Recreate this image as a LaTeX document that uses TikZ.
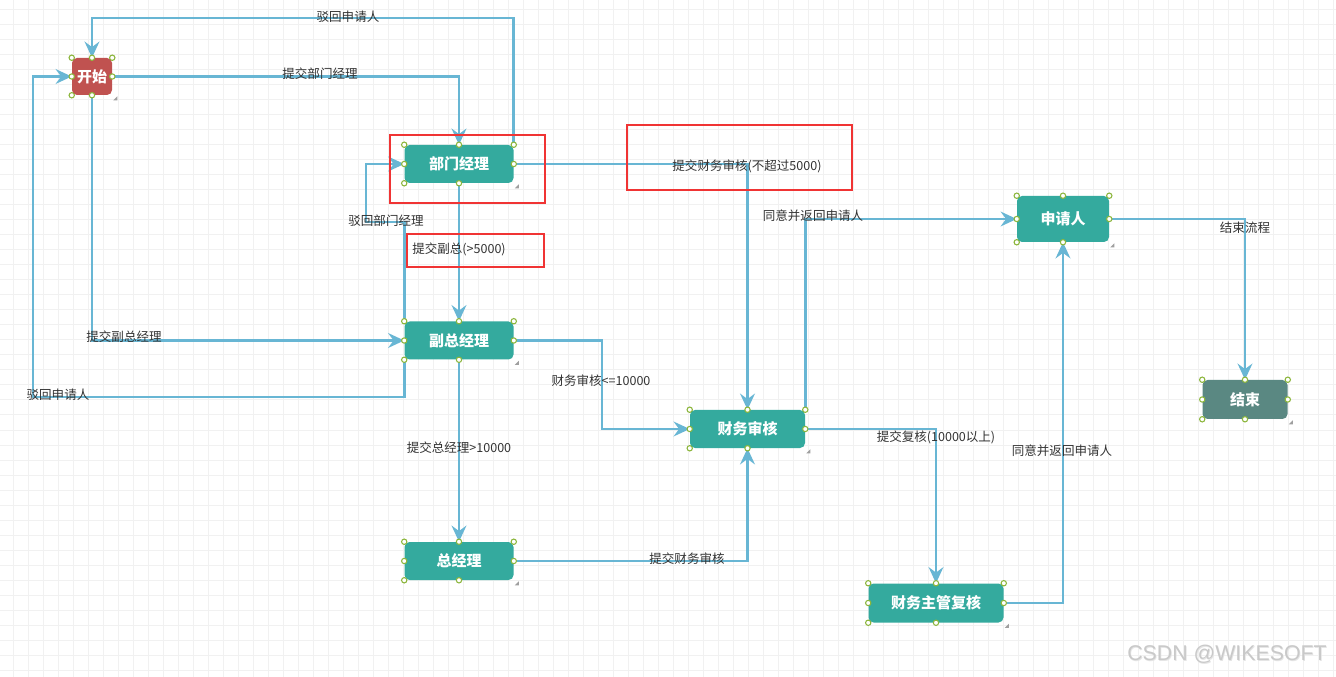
\documentclass[tikz,border=0pt]{standalone}
\usepackage{fontspec}
\setmainfont{Noto Sans CJK SC}
\newfontfamily\wmfont{Liberation Sans}
\usetikzlibrary{arrows.meta}
\definecolor{teal1}{RGB}{52,170,158}
\definecolor{startred}{RGB}{192,82,80}
\definecolor{endgray}{RGB}{90,136,130}
\definecolor{edgeblue}{RGB}{104,182,212}
\definecolor{handlegreen}{RGB}{140,182,60}
\definecolor{gridc}{RGB}{241,241,241}
\definecolor{redbox}{RGB}{240,52,52}
\definecolor{labeltext}{RGB}{51,51,51}
\begin{document}
\begin{tikzpicture}[x=0.75pt,y=-0.75pt,
  box/.style={rounded corners=3.75pt, fill=teal1, text=white,
    font=\bfseries\fontsize{11.25pt}{12pt}\selectfont, inner sep=0pt,
    minimum height=28.5pt},
  flow/.style={draw=edgeblue, line width=2.1pt,
    -{Stealth[length=12pt,width=11pt,inset=4pt]}},
  lbl/.style={text=labeltext, font=\fontsize{9.4pt}{10pt}\selectfont, inner sep=0pt},
  handle/.style={draw=handlegreen, fill=white, line width=0.8pt},
  hl/.style={draw=redbox, line width=1.6pt}
]
\useasboundingbox[fill=white] (0,0) rectangle (1336,677);
% grid
\foreach \i in {0,...,88} \draw[gridc, line width=0.75pt] (13+15*\i,0) -- (13+15*\i,677);
\foreach \j in {0,...,44} \draw[gridc, line width=0.75pt] (0,10+15*\j) -- (1336,10+15*\j);

% nodes
\node[box, fill=startred, minimum width=30pt, minimum height=27.75pt] (start) at (92,76.5) {开始};
\node[box, minimum width=81.75pt] (dept) at (459,164) {部门经理};
\node[box, minimum width=81.75pt] (vp) at (459,340.5) {副总经理};
\node[box, minimum width=81.75pt] (gm) at (459,561) {总经理};
\node[box, minimum width=86.25pt] (fin) at (747.5,429) {财务审核};
\node[box, minimum width=69pt, minimum height=34.5pt] (app) at (1063,219) {申请人};
\node[box, fill=endgray, minimum width=63.75pt, minimum height=29.25pt] (endn) at (1245,399.5) {结束};
\node[box, minimum width=101.25pt, minimum height=29.25pt] (rev) at (936,603) {财务主管复核};

% route coordinates
\coordinate (c2) at (300,18);
\coordinate (r1) at (33,397);
\coordinate (r2) at (366,222);
\coordinate (r3) at (602,380);

% connectors
\draw[flow] (start.east) -| (dept.north);
\draw[flow] (dept.north east) |- (c2) -| (start.north);
\draw[flow] (start.south) |- (vp.west);
\draw[flow] (vp.south west) |- (r1) |- (start.west);
\draw[flow] (vp.north west) |- (r2) |- (dept.west);
\draw[flow] (dept.south) -- (vp.north);
\draw[flow] (dept.east) -| (fin.north);
\draw[flow] (fin.north east) |- (app.west);
\draw[flow] (vp.east) -| (r3) |- (fin.west);
\draw[flow] (vp.south) -- (gm.north);
\draw[flow] (gm.east) -| (fin.south);
\draw[flow] (fin.east) -| (rev.north);
\draw[flow] (rev.east) -| (app.south);
\draw[flow] (app.east) -| (endn.north);

% handles
\foreach \n in {start,dept,vp,gm,fin,app,endn,rev}{
  \foreach \a in {north west,north,north east,west,east,south west,south}
    \draw[handle] (\n.\a) circle[radius=2pt];
  \fill[gray!75] ([shift={(1,5)}]\n.south east) -- ++(4,0) -- ++(0,-4) -- cycle;
}

% labels
\node[lbl] (l1) at (320,74) {提交部门经理};
\node[lbl] (l2) at (348,17) {驳回申请人};
\node[lbl] (l3) at (124,337) {提交副总经理};
\node[lbl] (l4) at (58,395) {驳回申请人};
\node[lbl] (l5) at (386,221) {驳回部门经理};
\node[lbl] (l6) at (459,249) {提交副总(>5000)};
\node[lbl] (l7) at (747,166) {提交财务审核(不超过5000)};
\node[lbl] (l8) at (813,216) {同意并返回申请人};
\node[lbl] (l9) at (601,381) {财务审核<=10000};
\node[lbl] (l10) at (459,448) {提交总经理>10000};
\node[lbl] (l11) at (687,559) {提交财务审核};
\node[lbl] (l12) at (936,437) {提交复核(10000以上)};
\node[lbl] (l13) at (1062,451) {同意并返回申请人};
\node[lbl] (l14) at (1245,228) {结束流程};

% red highlight boxes
\draw[hl] (390,135) rectangle (545,203);
\draw[hl] (407,234) rectangle (544,267);
\draw[hl] (627,125) rectangle (852,190);

% watermark
\node[text=gray!20, font=\wmfont\fontsize{16pt}{17pt}\selectfont] (wm0) at (1227.8,654.8) {CSDN @WIKESOFT};
\node[text=gray!42, font=\wmfont\fontsize{16pt}{17pt}\selectfont] (wm) at (1227,654) {CSDN @WIKESOFT};
\end{tikzpicture}
\end{document}
